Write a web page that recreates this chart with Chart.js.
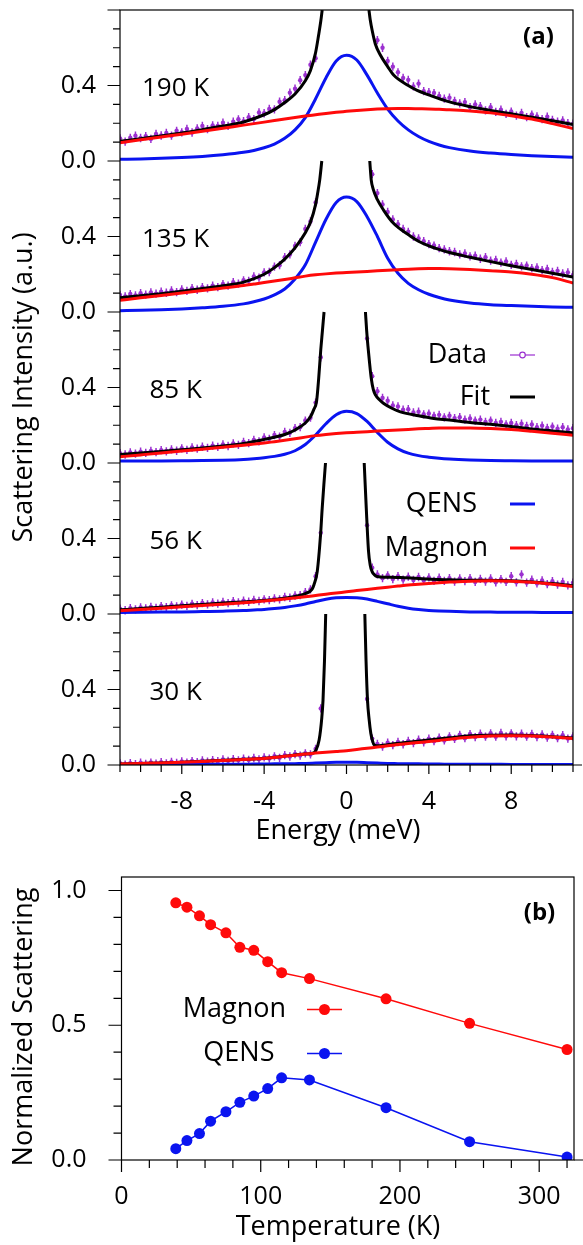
<!DOCTYPE html>
<html><head><meta charset="utf-8">
<script src="https://cdn.jsdelivr.net/npm/chart.js@4.4.1/dist/chart.umd.min.js"></script>
<style>
html,body{margin:0;padding:0;background:#fff;}
#wrap{position:relative;width:583px;height:1245px;overflow:hidden;}
#c1{position:absolute;left:0;top:0;width:583px;height:850px;}
#c2{position:absolute;left:0;top:850px;width:583px;height:395px;}
</style></head><body>
<div id="wrap"><canvas id="c1" width="583" height="850"></canvas><canvas id="c2" width="583" height="395"></canvas></div>
<script>
// ---------------- DATA: panel (a) ----------------
const temps = ['190 K', '135 K', '85 K', '56 K', '30 K'];
const energyTicks = [-8, -4, 0, 4, 8];
const intensityTickLabels = ['0.0', '0.4'];

const dataE = [-11,-10.75,-10.5,-10.25,-10,-9.75,-9.5,-9.25,-9,-8.75,-8.5,-8.25,-8,-7.75,-7.5,-7.25,-7,-6.75,-6.5,-6.25,-6,-5.75,-5.5,-5.25,-5,-4.75,-4.5,-4.25,-4,-3.75,-3.5,-3.25,-3,-2.75,-2.5,-2.25,-2,-1.75,-1.5,-1.25,-1,-0.75,-0.5,-0.25,0,0.25,0.5,0.75,1,1.25,1.5,1.75,2,2.25,2.5,2.75,3,3.25,3.5,3.75,4,4.25,4.5,4.75,5,5.25,5.5,5.75,6,6.25,6.5,6.75,7,7.25,7.5,7.75,8,8.25,8.5,8.75,9,9.25,9.5,9.75,10,10.25,10.5,10.75,11];

const data190 = [.12,.103,.123,.134,.122,.132,.117,.143,.135,.149,.134,.16,.152,.17,.151,.173,.186,.169,.189,.186,.203,.186,.208,.221,.211,.232,.222,.257,.253,.276,.274,.314,.322,.362,.383,.428,.455,.51,.545,
 null,null,null,null,null,null,null,null,null,null,null,
 .64,.6,.53,.5,.47,.44,.43,.395,.41,.37,.365,.36,.345,.33,.335,.318,.305,.312,.285,.3,.29,.268,.285,.26,.272,.25,.262,.24,.255,.232,.246,.236,.222,.235,.218,.208,.215,.2,.198];
const data135 = [.09,.082,.095,.088,.1,.092,.104,.097,.108,.102,.114,.105,.12,.112,.126,.118,.132,.125,.14,.132,.148,.14,.158,.15,.168,.165,.188,.182,.21,.212,.24,.248,.29,.305,.35,.37,.44,.48,.58,
 null,null,null,null,null,null,null,null,null,null,
 .73,.63,.57,.53,.49,.465,.44,.425,.4,.39,.375,.36,.352,.338,.332,.322,.318,.305,.31,.295,.298,.282,.29,.272,.276,.262,.268,.25,.255,.242,.246,.232,.236,.222,.228,.212,.218,.204,.21,.196];
const data85 = [.052,.045,.056,.05,.06,.054,.064,.058,.068,.062,.072,.065,.078,.07,.082,.076,.086,.08,.092,.085,.098,.09,.104,.096,.112,.105,.122,.115,.135,.128,.148,.14,.165,.16,.185,.19,.225,.24,.32,
 .56, null,null,null,null,null,null,null,null,
 .66,.46,.38,.345,.33,.305,.3,.282,.285,.268,.272,.258,.262,.25,.255,.242,.25,.238,.243,.23,.236,.225,.23,.218,.225,.212,.218,.205,.212,.2,.208,.196,.204,.19,.198,.186,.193,.182,.19,.178,.184];
const data56 = [.028,.02,.031,.025,.035,.029,.038,.032,.042,.036,.046,.04,.05,.043,.054,.047,.058,.051,.061,.055,.064,.058,.068,.061,.071,.065,.075,.069,.078,.073,.083,.078,.09,.086,.098,.1,.116,.13,.2,
 .43, null,null,null,null,null,null,null,null,
 .47,.245,.21,.19,.205,.185,.2,.182,.198,.18,.196,.178,.194,.176,.192,.175,.19,.172,.189,.174,.19,.17,.186,.172,.188,.168,.184,.17,.2,.168,.21,.166,.182,.162,.178,.158,.174,.156,.17,.152,.166];
const data30 = [.009,.002,.01,.004,.012,.006,.013,.007,.015,.009,.017,.011,.019,.013,.021,.015,.024,.018,.026,.02,.029,.022,.031,.025,.034,.027,.037,.03,.04,.034,.046,.038,.052,.045,.058,.05,.062,.056,.085,
 .3, null,null,null,null,null,null,null,null,
 .35,.14,.112,.098,.118,.105,.122,.11,.128,.116,.134,.12,.14,.126,.145,.13,.152,.138,.16,.142,.164,.148,.166,.15,.168,.15,.17,.152,.168,.152,.166,.15,.165,.148,.162,.145,.16,.142,.158,.14,.152];
const dataErr = 0.022;

const fitE190 = [-11,-10,-9,-8,-7,-6,-5,-4,-3.5,-3,-2.5,-2,-1.75,-1.5,-1.35,-1.25,-1.18,0,1.09,1.15,1.25,1.4,1.65,2,2.3,3,3.43,4,5,6,7,8,9,10,11];
const fit190  = [.104,.118,.133,.148,.166,.185,.207,.245,.272,.31,.355,.425,.48,.575,.67,.74,.8,null,.8,.75,.69,.62,.56,.5,.454,.4,.374,.35,.313,.288,.268,.25,.232,.213,.193];
const fitE135 = [-11,-10,-9,-8,-7,-6,-5,-4,-3.5,-3,-2.5,-2,-1.75,-1.5,-1.4,-1.3,-1.2,0,1.13,1.2,1.3,1.5,1.8,2.2,2.6,3,3.5,4,5,6,7,8,9,10,11];
const fit135  = [.076,.086,.097,.11,.124,.139,.158,.2,.235,.28,.34,.42,.475,.57,.63,.7,.8,null,.8,.7,.65,.595,.54,.48,.44,.41,.375,.35,.315,.29,.267,.245,.225,.205,.185];
const fitE85 = [-11,-10,-9,-8,-7,-6,-5,-4,-3,-2.5,-2,-1.75,-1.6,-1.45,-1.35,-1.25,-1.17,-1.09,0,0.92,0.98,1.04,1.12,1.2,1.3,1.41,1.6,1.81,2.2,2.62,3.5,4.24,5,6,7,8,9,10,11];
const fit85  = [.045,.053,.061,.07,.079,.09,.103,.125,.151,.175,.212,.245,.28,.33,.45,.6,.7,.8,null,.8,.7,.62,.53,.45,.39,.36,.335,.315,.29,.271,.25,.236,.228,.215,.205,.193,.18,.17,.16];
const fitE56 = [-11,-10,-9,-8,-7,-6,-5,-4,-3,-2.5,-2,-1.67,-1.58,-1.42,-1.26,-1.18,-1.1,-1.02,0,0.86,0.96,1.07,1.15,1.24,1.35,1.48,2,2.62,3.5,5,6,7.5,9,10,11];
const fit56  = [.022,.029,.036,.044,.051,.058,.064,.072,.084,.093,.108,.132,.155,.226,.42,.561,.684,.8,null,.8,.561,.332,.26,.226,.208,.199,.195,.193,.188,.181,.179,.177,.17,.161,.149];
const fitE30 = [-11,-10,-9,-8,-7,-6,-5,-4,-3,-2.5,-2,-1.65,-1.5,-1.33,-1.2,-1.14,-1.07,-1.01,0,0.89,0.95,1.02,1.1,1.18,1.26,1.34,1.58,2,3,4,5,6,7,8,9,10,11];
const fit30  = [.005,.008,.011,.015,.02,.025,.03,.036,.047,.053,.058,.062,.075,.132,.25,.344,.55,.8,null,.8,.55,.344,.24,.168,.13,.106,.102,.108,.12,.132,.144,.155,.158,.159,.156,.15,.143];

const curveE = [-11,-10,-9,-8,-7,-6,-5,-4.5,-4,-3.5,-3,-2.5,-2,-1.5,-1,-0.5,0,0.5,1,1.5,2,2.5,3,3.5,4,4.5,5,6,7,8,9,10,11];
const qens190   = [.009,.011,.014,.018,.024,.033,.046,.056,.07,.09,.12,.165,.23,.33,.44,.53,.56,.535,.455,.36,.275,.212,.165,.13,.104,.085,.071,.053,.042,.034,.028,.024,.02];
const magnon190 = [.097,.112,.127,.142,.158,.174,.19,.198,.206,.214,.222,.23,.238,.245,.252,.258,.263,.268,.272,.275,.277,.278,.278,.277,.276,.274,.272,.265,.255,.24,.222,.198,.172];
const qens135   = [.007,.009,.012,.016,.022,.03,.043,.054,.069,.091,.122,.175,.25,.37,.49,.58,.609,.585,.505,.4,.285,.205,.152,.118,.094,.077,.064,.048,.039,.034,.03,.027,.025];
const magnon135 = [.062,.075,.088,.101,.114,.127,.14,.148,.156,.164,.172,.181,.19,.197,.202,.206,.209,.212,.215,.218,.221,.224,.227,.229,.23,.23,.229,.225,.219,.212,.2,.182,.154];
const qens85    = [.01,.01,.011,.012,.013,.015,.019,.023,.028,.035,.046,.065,.098,.148,.208,.256,.274,.262,.22,.162,.11,.075,.052,.039,.031,.025,.021,.016,.013,.012,.011,.01,.01];
const magnon85  = [.033,.043,.053,.063,.073,.083,.094,.1,.106,.113,.12,.128,.137,.145,.151,.156,.16,.163,.166,.169,.172,.175,.178,.181,.183,.185,.186,.186,.183,.177,.168,.158,.147];
const qens56    = [.008,.009,.01,.011,.013,.015,.018,.021,.024,.029,.035,.043,.053,.066,.078,.086,.088,.086,.079,.067,.054,.041,.031,.024,.019,.016,.014,.011,.01,.009,.009,.008,.008];
const magnon56  = [.017,.024,.031,.038,.045,.052,.06,.064,.069,.074,.079,.085,.091,.098,.105,.111,.118,.124,.13,.136,.142,.148,.154,.158,.162,.166,.169,.174,.176,.174,.168,.158,.146];
const qens30    = [.003,.003,.003,.003,.004,.004,.004,.005,.005,.006,.006,.007,.008,.01,.012,.014,.014,.014,.012,.01,.008,.007,.006,.006,.005,.005,.004,.004,.004,.003,.003,.003,.003];
const magnon30  = [.005,.008,.011,.015,.019,.024,.029,.032,.035,.04,.046,.052,.058,.063,.068,.072,.076,.082,.089,.095,.102,.108,.114,.119,.124,.13,.137,.147,.153,.155,.153,.148,.141];

// ---------------- DATA: panel (b) ----------------
const tempK      = [39, 47, 56, 64, 75, 85, 95, 105, 115, 135, 190, 250, 320];
const magnonNorm = [.954,.938,.906,.873,.843,.789,.778,.736,.695,.673,.598,.507,.41];
const qensNorm   = [.042,.072,.098,.144,.179,.214,.237,.265,.305,.297,.194,.068,.011];
const tempTicks  = [0, 100, 200, 300];
const normTicks  = [0, 0.5, 1.0];

// ---------------- STYLE ----------------
const FONT = "'Open Sans', 'DejaVu Sans', sans-serif";
const PURPLE = '#9b30d0', BLUE = '#0a14f0', RED = '#ff0a0a', BLACK = '#000';
const PANEL = 0.8;
Chart.defaults.font.family = FONT;
Chart.defaults.color = '#000';

const panels = [
  {data:data190, fitE:fitE190, fit:fit190, qens:qens190, magnon:magnon190},
  {data:data135, fitE:fitE135, fit:fit135, qens:qens135, magnon:magnon135},
  {data:data85,  fitE:fitE85,  fit:fit85,  qens:qens85,  magnon:magnon85},
  {data:data56,  fitE:fitE56,  fit:fit56,  qens:qens56,  magnon:magnon56},
  {data:data30,  fitE:fitE30,  fit:fit30,  qens:qens30,  magnon:magnon30}
];
const N = panels.length;
const offsetOf = k => (N - 1 - k) * PANEL;

const topSets = [];
panels.forEach((p, k) => {
  const off = offsetOf(k);
  const sh = v => (v === null ? null : v + off);
  topSets.push({isData:true, data: dataE.map((e,i)=>({x:e, y:sh(p.data[i])})), showLine:false,
    pointRadius:2.2, pointHoverRadius:0, pointBackgroundColor:PURPLE, pointBorderWidth:0, borderColor:PURPLE, order:4});
  topSets.push({data: p.fitE.map((e,i)=>({x:e, y:sh(p.fit[i])})), borderColor:BLACK, borderWidth:3,
    pointRadius:0, spanGaps:false, cubicInterpolationMode:'monotone', order:3});
  topSets.push({data: curveE.map((e,i)=>({x:e, y:sh(p.qens[i])})), borderColor:BLUE, borderWidth:3,
    pointRadius:0, cubicInterpolationMode:'monotone', order:2});
  topSets.push({data: curveE.map((e,i)=>({x:e, y:sh(p.magnon[i])})), borderColor:RED, borderWidth:3,
    pointRadius:0, cubicInterpolationMode:'monotone', order:1});
});

const yTopTicks = [];
for (let k = 0; k < N; k++) intensityTickLabels.forEach((lab, j) => yTopTicks.push({value: k*PANEL + j*0.4, label: lab}));

function text(ctx, s, x, y, size, align, opts) {
  opts = opts || {};
  ctx.save();
  ctx.font = (opts.bold ? 'bold ' : '') + size + 'px ' + FONT;
  ctx.fillStyle = '#000';
  ctx.textAlign = align; ctx.textBaseline = 'middle';
  if (opts.rot) { ctx.translate(x, y); ctx.rotate(opts.rot); ctx.fillText(s, 0, 0); }
  else ctx.fillText(s, x, y);
  ctx.restore();
}
function frame(chart, o) {
  const ctx = chart.ctx, a = chart.chartArea, xs = chart.scales.x, ys = chart.scales.y;
  ctx.save();
  ctx.strokeStyle = '#000'; ctx.lineWidth = 1.2;
  ctx.strokeRect(a.left, a.top, a.right - a.left, a.bottom - a.top);
  ctx.beginPath();
  ctx.moveTo(a.right, a.bottom); ctx.lineTo(a.right + 9, a.bottom);
  o.yMaj.forEach(v => { const y = ys.getPixelForValue(v); ctx.moveTo(a.left - o.yMajL, y); ctx.lineTo(a.left, y); });
  o.yMin.forEach(v => { const y = ys.getPixelForValue(v); ctx.moveTo(a.left - o.yMinL, y); ctx.lineTo(a.left, y); });
  o.xMaj.forEach(v => { const x = xs.getPixelForValue(v); ctx.moveTo(x, a.bottom); ctx.lineTo(x, a.bottom + o.xMajL); });
  o.xMin.forEach(v => { const x = xs.getPixelForValue(v); ctx.moveTo(x, a.bottom); ctx.lineTo(x, a.bottom + o.xMinL); });
  ctx.stroke();
  ctx.restore();
}
function noPad(ax) { ax.paddingTop = 0; ax.paddingBottom = 0; ax.paddingLeft = 0; ax.paddingRight = 0; }

const topPlugin = {
  id: 'topDecor',
  beforeDatasetsDraw(chart) {
    const ctx = chart.ctx, a = chart.chartArea, xs = chart.scales.x, ys = chart.scales.y;
    ctx.save();
    ctx.beginPath(); ctx.rect(a.left, a.top, a.right - a.left, a.bottom - a.top); ctx.clip();
    ctx.strokeStyle = PURPLE; ctx.lineWidth = 1.5;
    ctx.beginPath();
    chart.data.datasets.forEach(ds => {
      if (!ds.isData) return;
      ds.data.forEach(pt => {
        if (pt.y === null) return;
        const x = xs.getPixelForValue(pt.x);
        ctx.moveTo(x, ys.getPixelForValue(pt.y - dataErr));
        ctx.lineTo(x, ys.getPixelForValue(pt.y + dataErr));
      });
    });
    ctx.stroke();
    ctx.restore();
  },
  afterDraw(chart) {
    const ctx = chart.ctx, xs = chart.scales.x, ys = chart.scales.y;
    const yMaj = [], yMin = [], xMin = [];
    for (let i = 0; i <= N * 2; i++) yMaj.push(i * 0.4);
    for (let i = 0; i <= N * 8; i++) if (i % 4) yMin.push(i / 10);
    for (let e = -11; e <= 11; e++) if (!energyTicks.includes(e)) xMin.push(e);
    frame(chart, {yMaj, yMin, xMaj: energyTicks, xMin, yMajL: 12.5, yMinL: 7, xMajL: 9, xMinL: 7});
    temps.forEach((t, k) => text(ctx, t, xs.getPixelForValue(-8.3), ys.getPixelForValue(offsetOf(k) + 0.385), 26, 'center'));
    text(ctx, '(a)', 538.5, 37, 24, 'center', {bold:true});
    const leg = [['Data', 487, 355, PURPLE, 1.2], ['Fit', 490, 397, BLACK, 3], ['QENS', 477, 504, BLUE, 3], ['Magnon', 488, 548, RED, 3]];
    leg.forEach(([s, xr, y, col, lw]) => {
      text(ctx, s, xr, y, 27, 'right');
      ctx.save(); ctx.strokeStyle = col; ctx.lineWidth = lw;
      ctx.beginPath(); ctx.moveTo(510, y); ctx.lineTo(535, y); ctx.stroke();
      if (s === 'Data') { ctx.fillStyle = '#fff'; ctx.lineWidth = 1.2; ctx.beginPath(); ctx.arc(522.5, y, 2.8, 0, Math.PI*2); ctx.fill(); ctx.stroke(); }
      ctx.restore();
    });
    text(ctx, 'Energy (meV)', 338, 831, 27, 'center');
    text(ctx, 'Scattering Intensity (a.u.)', 24, 387.5, 27, 'center', {rot: -Math.PI/2});
  }
};

new Chart(document.getElementById('c1'), {
  type: 'line',
  data: { datasets: topSets },
  options: {
    responsive: false, animation: false, events: [],
    layout: { padding: { left: 0, right: 10, top: 10, bottom: 0 } },
    plugins: { legend: { display: false }, tooltip: { enabled: false } },
    scales: {
      x: { type: 'linear', min: -11, max: 11,
        afterBuildTicks: ax => { ax.ticks = energyTicks.map(v => ({value: v})); },
        afterFit: ax => { ax.height = 85; noPad(ax); },
        ticks: { font: { size: 25 }, padding: 22, color: '#000', maxRotation: 0, autoSkip: false, callback: v => String(v) },
        grid: { display: false, drawTicks: false }, border: { display: false } },
      y: { type: 'linear', min: 0, max: N * PANEL,
        afterBuildTicks: ax => { ax.ticks = yTopTicks.map(t => ({value: t.value})); },
        afterFit: ax => { ax.width = 120; noPad(ax); },
        ticks: { font: { size: 25 }, padding: 24, color: '#000', autoSkip: false, callback: (v, i) => yTopTicks[i].label },
        grid: { display: false, drawTicks: false }, border: { display: false } }
    }
  },
  plugins: [topPlugin]
});

// ---------------- panel (b) ----------------
const botPlugin = {
  id: 'botDecor',
  afterDraw(chart) {
    const ctx = chart.ctx;
    const yMin = [], xMin = [];
    for (let i = 1; i <= 10; i++) if (i !== 5 && i !== 10) yMin.push(i / 10);
    for (let t = 20; t <= 320; t += 20) if (!tempTicks.includes(t)) xMin.push(t);
    frame(chart, {yMaj: normTicks, yMin, xMaj: tempTicks, xMin, yMajL: 13, yMinL: 8, xMajL: 12, xMinL: 8});
    text(ctx, '(b)', 539.5, 63, 24, 'center', {bold:true});
    const leg = [['Magnon', 286, 159.5, RED], ['QENS', 274.5, 203.5, BLUE]];
    leg.forEach(([s, xr, y, col]) => {
      text(ctx, s, xr, y, 27, 'right');
      ctx.save(); ctx.strokeStyle = col; ctx.fillStyle = col; ctx.lineWidth = 1.5;
      ctx.beginPath(); ctx.moveTo(307, y); ctx.lineTo(342, y); ctx.stroke();
      ctx.beginPath(); ctx.arc(324.5, y, 5.5, 0, Math.PI*2); ctx.fill();
      ctx.restore();
    });
    text(ctx, 'Temperature (K)', 338, 377, 27, 'center');
    text(ctx, 'Normalized Scattering', 24, 177, 27, 'center', {rot: -Math.PI/2});
  }
};

new Chart(document.getElementById('c2'), {
  type: 'line',
  data: { datasets: [
    { data: tempK.map((t,i)=>({x:t, y:magnonNorm[i]})), borderColor: RED, backgroundColor: RED, borderWidth: 1.5,
      pointRadius: 5.5, pointBackgroundColor: RED, pointBorderWidth: 0, tension: 0 },
    { data: tempK.map((t,i)=>({x:t, y:qensNorm[i]})), borderColor: BLUE, backgroundColor: BLUE, borderWidth: 1.5,
      pointRadius: 5.5, pointBackgroundColor: BLUE, pointBorderWidth: 0, tension: 0 }
  ]},
  options: {
    responsive: false, animation: false, events: [],
    layout: { padding: { left: 0, right: 9, top: 27, bottom: 0 } },
    plugins: { legend: { display: false }, tooltip: { enabled: false } },
    scales: {
      x: { type: 'linear', min: 0, max: 325,
        afterBuildTicks: ax => { ax.ticks = tempTicks.map(v => ({value: v})); },
        afterFit: ax => { ax.height = 85; noPad(ax); },
        ticks: { font: { size: 25 }, padding: 22, color: '#000', maxRotation: 0, autoSkip: false, callback: v => String(v) },
        grid: { display: false, drawTicks: false }, border: { display: false } },
      y: { type: 'linear', min: 0, max: 1.05,
        afterBuildTicks: ax => { ax.ticks = normTicks.map(v => ({value: v})); },
        afterFit: ax => { ax.width = 121.5; noPad(ax); },
        ticks: { font: { size: 25 }, padding: 35, color: '#000', autoSkip: false, callback: v => Number(v).toFixed(1) },
        grid: { display: false, drawTicks: false }, border: { display: false } }
    }
  },
  plugins: [botPlugin]
});
</script>
</body></html>
